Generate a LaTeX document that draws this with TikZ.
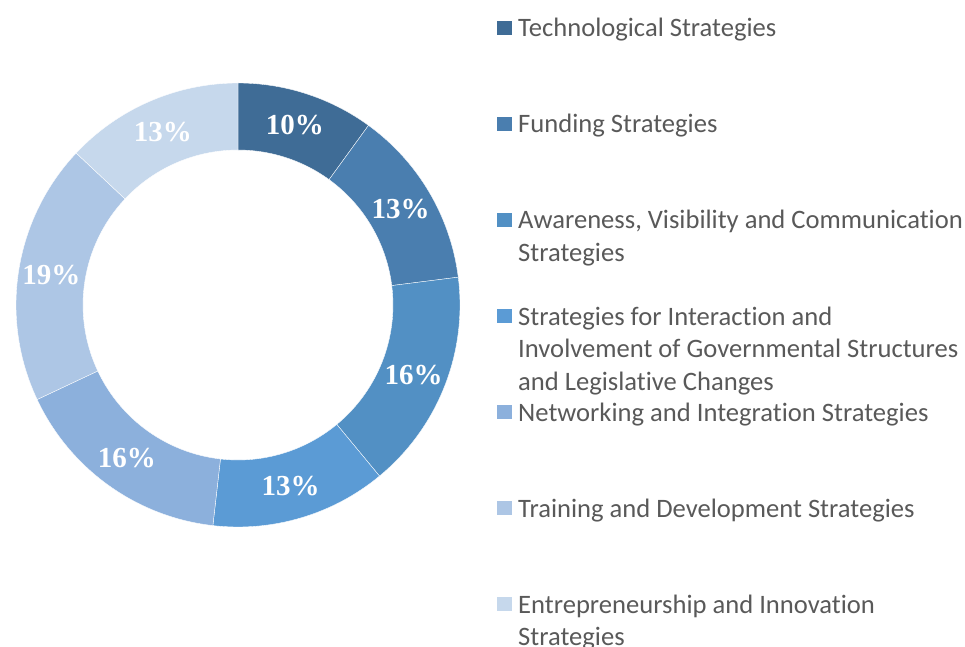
\documentclass[tikz,border=0pt]{standalone}
\usepackage{fontspec}
\setmainfont{Liberation Serif}
\newfontfamily\legfont[Ligatures=CommonOff]{Carlito}
\definecolor{cA}{HTML}{3F6C96}
\definecolor{cB}{HTML}{4A7EAF}
\definecolor{cC}{HTML}{5290C4}
\definecolor{cD}{HTML}{5B9BD5}
\definecolor{cE}{HTML}{8CB0DC}
\definecolor{cF}{HTML}{ADC6E5}
\definecolor{cG}{HTML}{C6D8EC}
\definecolor{legtext}{HTML}{595959}
\newcommand{\legentry}[1]{\parbox[t]{460pt}{\raggedright\legfont\fontsize{26.6}{32.5}\selectfont #1}}
\tikzset{
  slice/.style={draw=white, line width=0.35pt},
  pct/.style={font=\fontsize{29}{32}\selectfont\bfseries, text=white, inner sep=0pt},
  legbox/.style={inner sep=0pt, minimum width=15pt, minimum height=14pt, anchor=south west},
  legtxt/.style={anchor=base west, inner sep=0pt, text=legtext},
}
\begin{document}
\begin{tikzpicture}[x=1pt,y=1pt]
\useasboundingbox (0,0) rectangle (965,646);
\begin{scope}[shift={(238,341)}]
  \fill[cA,slice] (90:222) arc[start angle=90,end angle=54,radius=222] -- (54:155) arc[start angle=54,end angle=90,radius=155] -- cycle;
  \fill[cB,slice] (54:222) arc[start angle=54,end angle=7.2,radius=222] -- (7.2:155) arc[start angle=7.2,end angle=54,radius=155] -- cycle;
  \fill[cC,slice] (7.2:222) arc[start angle=7.2,end angle=-50.4,radius=222] -- (-50.4:155) arc[start angle=-50.4,end angle=7.2,radius=155] -- cycle;
  \fill[cD,slice] (-50.4:222) arc[start angle=-50.4,end angle=-96.5,radius=222] -- (-96.5:155) arc[start angle=-96.5,end angle=-50.4,radius=155] -- cycle;
  \fill[cE,slice] (-96.5:222) arc[start angle=-96.5,end angle=-154.8,radius=222] -- (-154.8:155) arc[start angle=-154.8,end angle=-96.5,radius=155] -- cycle;
  \fill[cF,slice] (-154.8:222) arc[start angle=-154.8,end angle=-223.2,radius=222] -- (-223.2:155) arc[start angle=-223.2,end angle=-154.8,radius=155] -- cycle;
  \fill[cG,slice] (-223.2:222) arc[start angle=-223.2,end angle=-270,radius=222] -- (-270:155) arc[start angle=-270,end angle=-223.2,radius=155] -- cycle;
  \node[pct] (p1) at (72.5:189) {10\%};
  \node[pct] (p2) at (30.6:189) {13\%};
  \node[pct] (p3) at (-21.6:189) {16\%};
  \node[pct] (p4) at (-73.8:189) {13\%};
  \node[pct] (p5) at (-126:189) {16\%};
  \node[pct] (p6) at (-189:189) {19\%};
  \node[pct] (p7) at (-246.6:189) {13\%};
\end{scope}
% legend
\node[legbox, fill=cA] (b1) at (497,611) {};
\node[legtxt] (t1) at (518,609) {\legentry{Technological Strategies}};
\node[legbox, fill=cB] (b2) at (497,515) {};
\node[legtxt] (t2) at (518,513) {\legentry{Funding Strategies}};
\node[legbox, fill=cC] (b3) at (497,419) {};
\node[legtxt] (t3) at (518,417) {\legentry{Awareness, Visibility and Communication\\Strategies}};
\node[legbox, fill=cD] (b4) at (497,323) {};
\node[legtxt] (t4) at (518,321) {\legentry{Strategies for Interaction and\\Involvement of Governmental Structures\\and Legislative Changes}};
\node[legbox, fill=cE] (b5) at (497,227) {};
\node[legtxt] (t5) at (518,225) {\legentry{Networking and Integration Strategies}};
\node[legbox, fill=cF] (b6) at (497,131) {};
\node[legtxt] (t6) at (518,129) {\legentry{Training and Development Strategies}};
\node[legbox, fill=cG] (b7) at (497,35) {};
\node[legtxt] (t7) at (518,33) {\legentry{Entrepreneurship and Innovation\\Strategies}};
\end{tikzpicture}
\end{document}
